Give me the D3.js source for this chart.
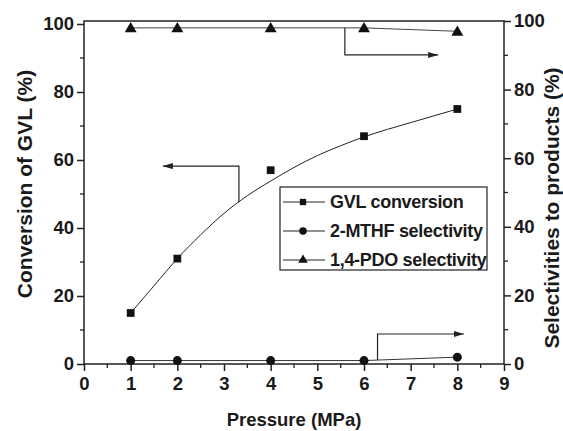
<!DOCTYPE html>
<html>
<head>
<meta charset="utf-8">
<script src="https://cdn.jsdelivr.net/npm/d3@7"></script>
<style>
  body { margin: 0; background: #fff; }
  text { font-family: "Liberation Sans", Arial, sans-serif; font-weight: bold; fill: #1a1a1a; }
</style>
</head>
<body>
<div id="chart"></div>
<script>
// pressure (MPa) of the measured points
var pressure = [1, 2, 4, 6, 8];
// conversion of GVL (%), left axis
var gvlConversion = [15, 31, 57, 67, 75];
// selectivities (%), right axis
var mthfSelectivity = [1, 1, 1, 1, 2];
var pdoSelectivity = [98, 98, 98, 98, 97];
// fitted curve for the conversion
var fitPressure = [1, 1.5, 2, 2.5, 3, 3.5, 4, 4.5, 5, 5.5, 6, 6.5, 7, 7.5, 8];
var fitConversion = [15, 23, 31, 38, 44.3, 49.5, 53.8, 57.8, 61.3, 64.2, 66.8, 69, 71, 73, 75];

var xTicks = [0, 1, 2, 3, 4, 5, 6, 7, 8, 9];
var yTicks = [0, 20, 40, 60, 80, 100];

// arrows: [x, value] points, axis says which y scale
var arrowLeft = [[3.32, 47.6], [3.32, 58.2], [1.69, 58.2]];
var arrowTopRight = [[5.59, 98], [5.59, 90.1], [7.59, 90.1]];
var arrowBottomRight = [[6.29, 1.2], [6.29, 8.75], [8.14, 8.75]];

var legendNames = ["GVL conversion", "2-MTHF selectivity", "1,4-PDO selectivity"];

var width = 563, height = 431;
var pLeft = 84, pRight = 504, pTop = 21, pBottom = 364;

var svg = d3.select("#chart").append("svg")
    .attr("width", width)
    .attr("height", height);

var x = d3.scaleLinear().domain([0, 9]).range([pLeft, pRight]);
var yLeft = d3.scaleLinear().domain([0, 100]).range([pBottom, 24]);
var yRight = d3.scaleLinear().domain([0, 100]).range([pBottom, pTop]);

var axisColor = "#222";

// frame
svg.append("rect")
    .attr("x", pLeft).attr("y", pTop)
    .attr("width", pRight - pLeft).attr("height", pBottom - pTop)
    .attr("fill", "none").attr("stroke", axisColor).attr("stroke-width", 1.5);

// minor ticks
var xMinor = d3.range(0.5, 9, 1);
svg.selectAll(".xminor").data(xMinor).enter().append("line")
    .attr("x1", d => x(d)).attr("x2", d => x(d))
    .attr("y1", pBottom).attr("y2", pBottom + 4)
    .attr("stroke", axisColor).attr("stroke-width", 1.3);
var yMinor = d3.range(10, 100, 20);
svg.selectAll(".ylminor").data(yMinor).enter().append("line")
    .attr("x1", pLeft - 4).attr("x2", pLeft)
    .attr("y1", d => yLeft(d)).attr("y2", d => yLeft(d))
    .attr("stroke", axisColor).attr("stroke-width", 1.3);
svg.selectAll(".yrminor").data(yMinor).enter().append("line")
    .attr("x1", pRight).attr("x2", pRight + 4)
    .attr("y1", d => yRight(d)).attr("y2", d => yRight(d))
    .attr("stroke", axisColor).attr("stroke-width", 1.3);

function styleAxis(g) {
    g.select(".domain").remove();
    g.selectAll(".tick line").attr("stroke", axisColor).attr("stroke-width", 1.5);
    g.selectAll(".tick text").style("font-size", "18.5px").attr("fill", "#1a1a1a");
}

svg.append("g")
    .attr("transform", "translate(0," + pBottom + ")")
    .call(d3.axisBottom(x).tickValues(xTicks).tickSize(7).tickPadding(6).tickFormat(d3.format("d")))
    .call(styleAxis);

svg.append("g")
    .attr("transform", "translate(" + pLeft + ",0)")
    .call(d3.axisLeft(yLeft).tickValues(yTicks).tickSize(7).tickPadding(3).tickFormat(d3.format("d")))
    .call(styleAxis);

svg.append("g")
    .attr("transform", "translate(" + pRight + ",0)")
    .call(d3.axisRight(yRight).tickValues(yTicks).tickSize(7).tickPadding(3).tickFormat(d3.format("d")))
    .call(styleAxis);

// axis titles
svg.append("text")
    .attr("x", (pLeft + pRight) / 2).attr("y", 426)
    .attr("text-anchor", "middle")
    .style("font-size", "18.5px")
    .text("Pressure (MPa)");

svg.append("text")
    .attr("transform", "translate(32,184) rotate(-90)")
    .attr("text-anchor", "middle")
    .style("font-size", "21px")
    .text("Conversion of GVL (%)");

svg.append("text")
    .attr("transform", "translate(559,208) rotate(-90)")
    .attr("text-anchor", "middle")
    .style("font-size", "21px")
    .text("Selectivities to products (%)");

// lines
var fitLine = d3.line()
    .x((d, i) => x(fitPressure[i]))
    .y(d => yLeft(d))
    .curve(d3.curveMonotoneX);
svg.append("path")
    .attr("d", fitLine(fitConversion))
    .attr("fill", "none").attr("stroke", "#222").attr("stroke-width", 1);

var rightLine = d3.line()
    .x((d, i) => x(pressure[i]))
    .y(d => yRight(d));
svg.append("path")
    .attr("d", rightLine(mthfSelectivity))
    .attr("fill", "none").attr("stroke", "#333").attr("stroke-width", 1);
svg.append("path")
    .attr("d", rightLine(pdoSelectivity))
    .attr("fill", "none").attr("stroke", "#444").attr("stroke-width", 1);

// markers
var sq = d3.symbol().type(d3.symbolSquare).size(60);
var circ = d3.symbol().type(d3.symbolCircle).size(64);
var tri = d3.symbol().type(d3.symbolTriangle).size(62);

svg.selectAll(".gvl").data(gvlConversion).enter().append("path")
    .attr("d", sq)
    .attr("transform", (d, i) => "translate(" + x(pressure[i]) + "," + yLeft(d) + ")")
    .attr("fill", "#111");
svg.selectAll(".mthf").data(mthfSelectivity).enter().append("path")
    .attr("d", circ)
    .attr("transform", (d, i) => "translate(" + x(pressure[i]) + "," + yRight(d) + ")")
    .attr("fill", "#111");
svg.selectAll(".pdo").data(pdoSelectivity).enter().append("path")
    .attr("d", tri)
    .attr("transform", (d, i) => "translate(" + x(pressure[i]) + "," + (yRight(d) + 1) + ")")
    .attr("fill", "#111");

// arrows
svg.append("defs").append("marker")
    .attr("id", "head")
    .attr("viewBox", "0 0 10 6")
    .attr("refX", 10).attr("refY", 3)
    .attr("markerWidth", 10).attr("markerHeight", 6)
    .attr("markerUnits", "userSpaceOnUse")
    .attr("orient", "auto")
    .append("path").attr("d", "M0,0L10,3L0,6Z").attr("fill", "#222");

function drawArrow(points, yScale) {
    svg.append("path")
        .attr("d", d3.line().x(d => x(d[0])).y(d => yScale(d[1]))(points))
        .attr("fill", "none").attr("stroke", "#222").attr("stroke-width", 1.2)
        .attr("marker-end", "url(#head)");
}
drawArrow(arrowLeft, yLeft);
drawArrow(arrowTopRight, yRight);
drawArrow(arrowBottomRight, yRight);

// legend
var lg = svg.append("g");
lg.append("rect")
    .attr("x", 280).attr("y", 187)
    .attr("width", 207).attr("height", 83)
    .attr("fill", "#fff").attr("stroke", "#222").attr("stroke-width", 1.2);
var legendSymbols = [d3.symbol().type(d3.symbolSquare).size(40),
                     d3.symbol().type(d3.symbolCircle).size(44),
                     d3.symbol().type(d3.symbolTriangle).size(40)];
legendNames.forEach(function(name, i) {
    var yy = 202 + i * 29;
    lg.append("line")
        .attr("x1", 283).attr("x2", 325)
        .attr("y1", yy).attr("y2", yy)
        .attr("stroke", "#222").attr("stroke-width", 1);
    lg.append("path")
        .attr("d", legendSymbols[i])
        .attr("transform", "translate(303," + yy + ")")
        .attr("fill", "#111");
    lg.append("text")
        .attr("x", 330).attr("y", yy + 6)
        .style("font-size", "18px")
        .style("letter-spacing", "-0.3px")
        .text(name);
});
</script>
</body>
</html>
